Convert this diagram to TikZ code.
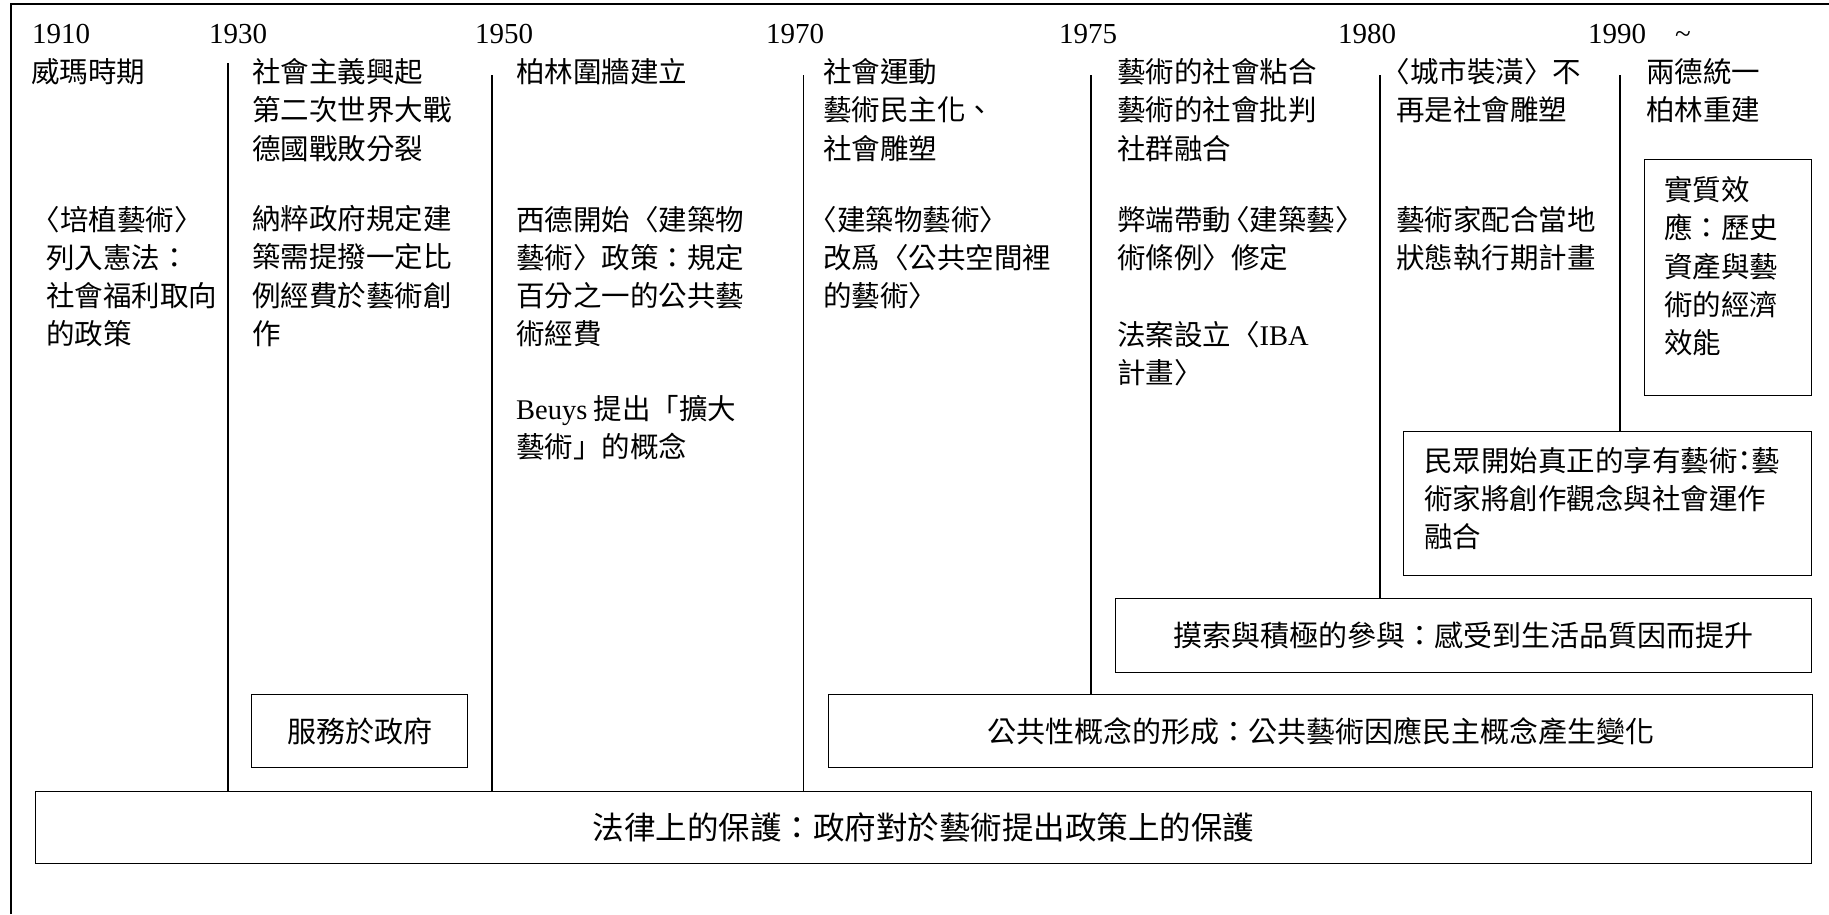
\documentclass[tikz,border=0pt]{standalone}
\usepackage{fontspec}
\setmainfont{Liberation Serif}
\newfontfamily\cjk{Noto Sans CJK TC}
\newcommand\lbk{\kern-0.5em〈}
\tikzset{
  yr/.style={anchor=base west, inner sep=0pt, font=\fontsize{29}{35}\selectfont},
  % anchor = baseline of the LAST line of the node
  txt/.style={anchor=base west, inner sep=0pt, align=left, font=\cjk\fontsize{28.5}{38.3}\selectfont},
  box/.style={draw, line width=1.3pt, anchor=north west, inner sep=0pt, align=center, font=\cjk\fontsize{29}{38.3}\selectfont},
  bigbox/.style={box, font=\cjk\fontsize{31.5}{38.3}\selectfont},
  sep/.style={line width=1.3pt},
}
\begin{document}
\begin{tikzpicture}[x=1pt,y=-1pt]
\useasboundingbox[fill=white] (0,0) rectangle (1829,914);
% outer frame
\coordinate (fbl) at (11,914);
\coordinate (ftl) at (11,4);
\coordinate (ftr) at (1829,4);
\draw[line width=1.5pt] (fbl) -- (ftl) -- (ftr);

% years
\node[yr] (y1910) at (32,43.3) {1910};
\node[yr] (y1930) at (209,43.3) {1930};
\node[yr] (y1950) at (475,43.3) {1950};
\node[yr] (y1970) at (766,43.3) {1970};
\node[yr] (y1975) at (1059,43.3) {1975};
\node[yr] (y1980) at (1338,43.3) {1980};
\node[yr] (y1990) at (1588,43.3) {1990};
\node[yr] (ytil) at (1675,43.3) {\char"7E};

% headings (y = baseline of last line)
\node[txt] (h1910) at (31,82.5) {威瑪時期};
\node[txt] (h1930) at (252,159.1) {社會主義興起\\第二次世界大戰\\德國戰敗分裂};
\node[txt] (h1950) at (516,82.5) {柏林圍牆建立};
\node[txt] (h1970) at (823,159.1) {社會運動\\藝術民主化、\\社會雕塑};
\node[txt] (h1975) at (1117,159.1) {藝術的社會粘合\\藝術的社會批判\\社群融合};
\node[txt] (h1980) at (1396,120.8) {\lbk 城市裝潢〉不\\再是社會雕塑};
\node[txt] (h1990) at (1646,120.8) {兩德統一\\柏林重建};

% paragraphs
\node[txt] (p1910) at (46,344.9) {\lbk 培植藝術〉\\列入憲法：\\社會福利取向\\的政策};
\node[txt] (p1930) at (252,344.4) {納粹政府規定建\\築需提撥一定比\\例經費於藝術創\\作};
\node[txt] (p1950) at (516,344.9) {西德開始〈建築物\\藝術〉政策：規定\\百分之一的公共藝\\術經費};
\node[txt] (p1950b) at (516,457.8) {{\rmfamily Beuys} 提出「擴大\\藝術」的概念};
\node[txt] (p1970) at (823,306.6) {\lbk 建築物藝術〉\\改爲〈公共空間裡\\的藝術〉};
\node[txt] (p1975) at (1117,268.3) {弊端帶動\kern-0.35em〈建築藝〉\\術條例〉修定};
\node[txt] (p1975b) at (1117,383.8) {法案設立〈{\rmfamily IBA}\\計畫〉};
\node[txt] (p1980) at (1396,268.3) {藝術家配合當地\\狀態執行期計畫};

% boxes
\node[box, minimum width=167, minimum height=236] (b1990) at (1644,159) {};
\node[txt] (t1990) at (1664,353.7) {實質效\\應：歷史\\資產與藝\\術的經濟\\效能};
\node[box, minimum width=408, minimum height=144] (bpeople) at (1403,431) {};
\node[txt] (tpeople) at (1424,547.6) {民眾開始真正的享有藝術\kern-0.25em：\kern-0.25em 藝\\術家將創作觀念與社會運作\\融合};
\node[box, minimum width=696, minimum height=74] (bexp) at (1115,598) {摸索與積極的參與：感受到生活品質因而提升};
\node[box, minimum width=984, minimum height=73] (bpublic) at (828,694) {公共性概念的形成：公共藝術因應民主概念產生變化};
\node[box, minimum width=216, minimum height=73] (bserv) at (251,694) {服務於政府};
\node[bigbox, minimum width=1776, minimum height=72] (blaw) at (35,791) {法律上的保護：政府對於藝術提出政策上的保護};

% separators
\coordinate (c1930) at (228,63);
\coordinate (c1950) at (492,75);
\coordinate (c1970) at (803.5,75);
\coordinate (c1975) at (1091,75);
\coordinate (c1980) at (1380,75);
\coordinate (c1990) at (1620,75);
\draw[sep] (c1930) -- (c1930 |- blaw.north);
\draw[sep] (c1950) -- (c1950 |- blaw.north);
\draw[sep] (c1970) -- (c1970 |- blaw.north);
\draw[sep] (c1975) -- (c1975 |- bpublic.north);
\draw[sep] (c1980) -- (c1980 |- bexp.north);
\draw[sep] (c1990) -- (c1990 |- bpeople.north);
\end{tikzpicture}
\end{document}
